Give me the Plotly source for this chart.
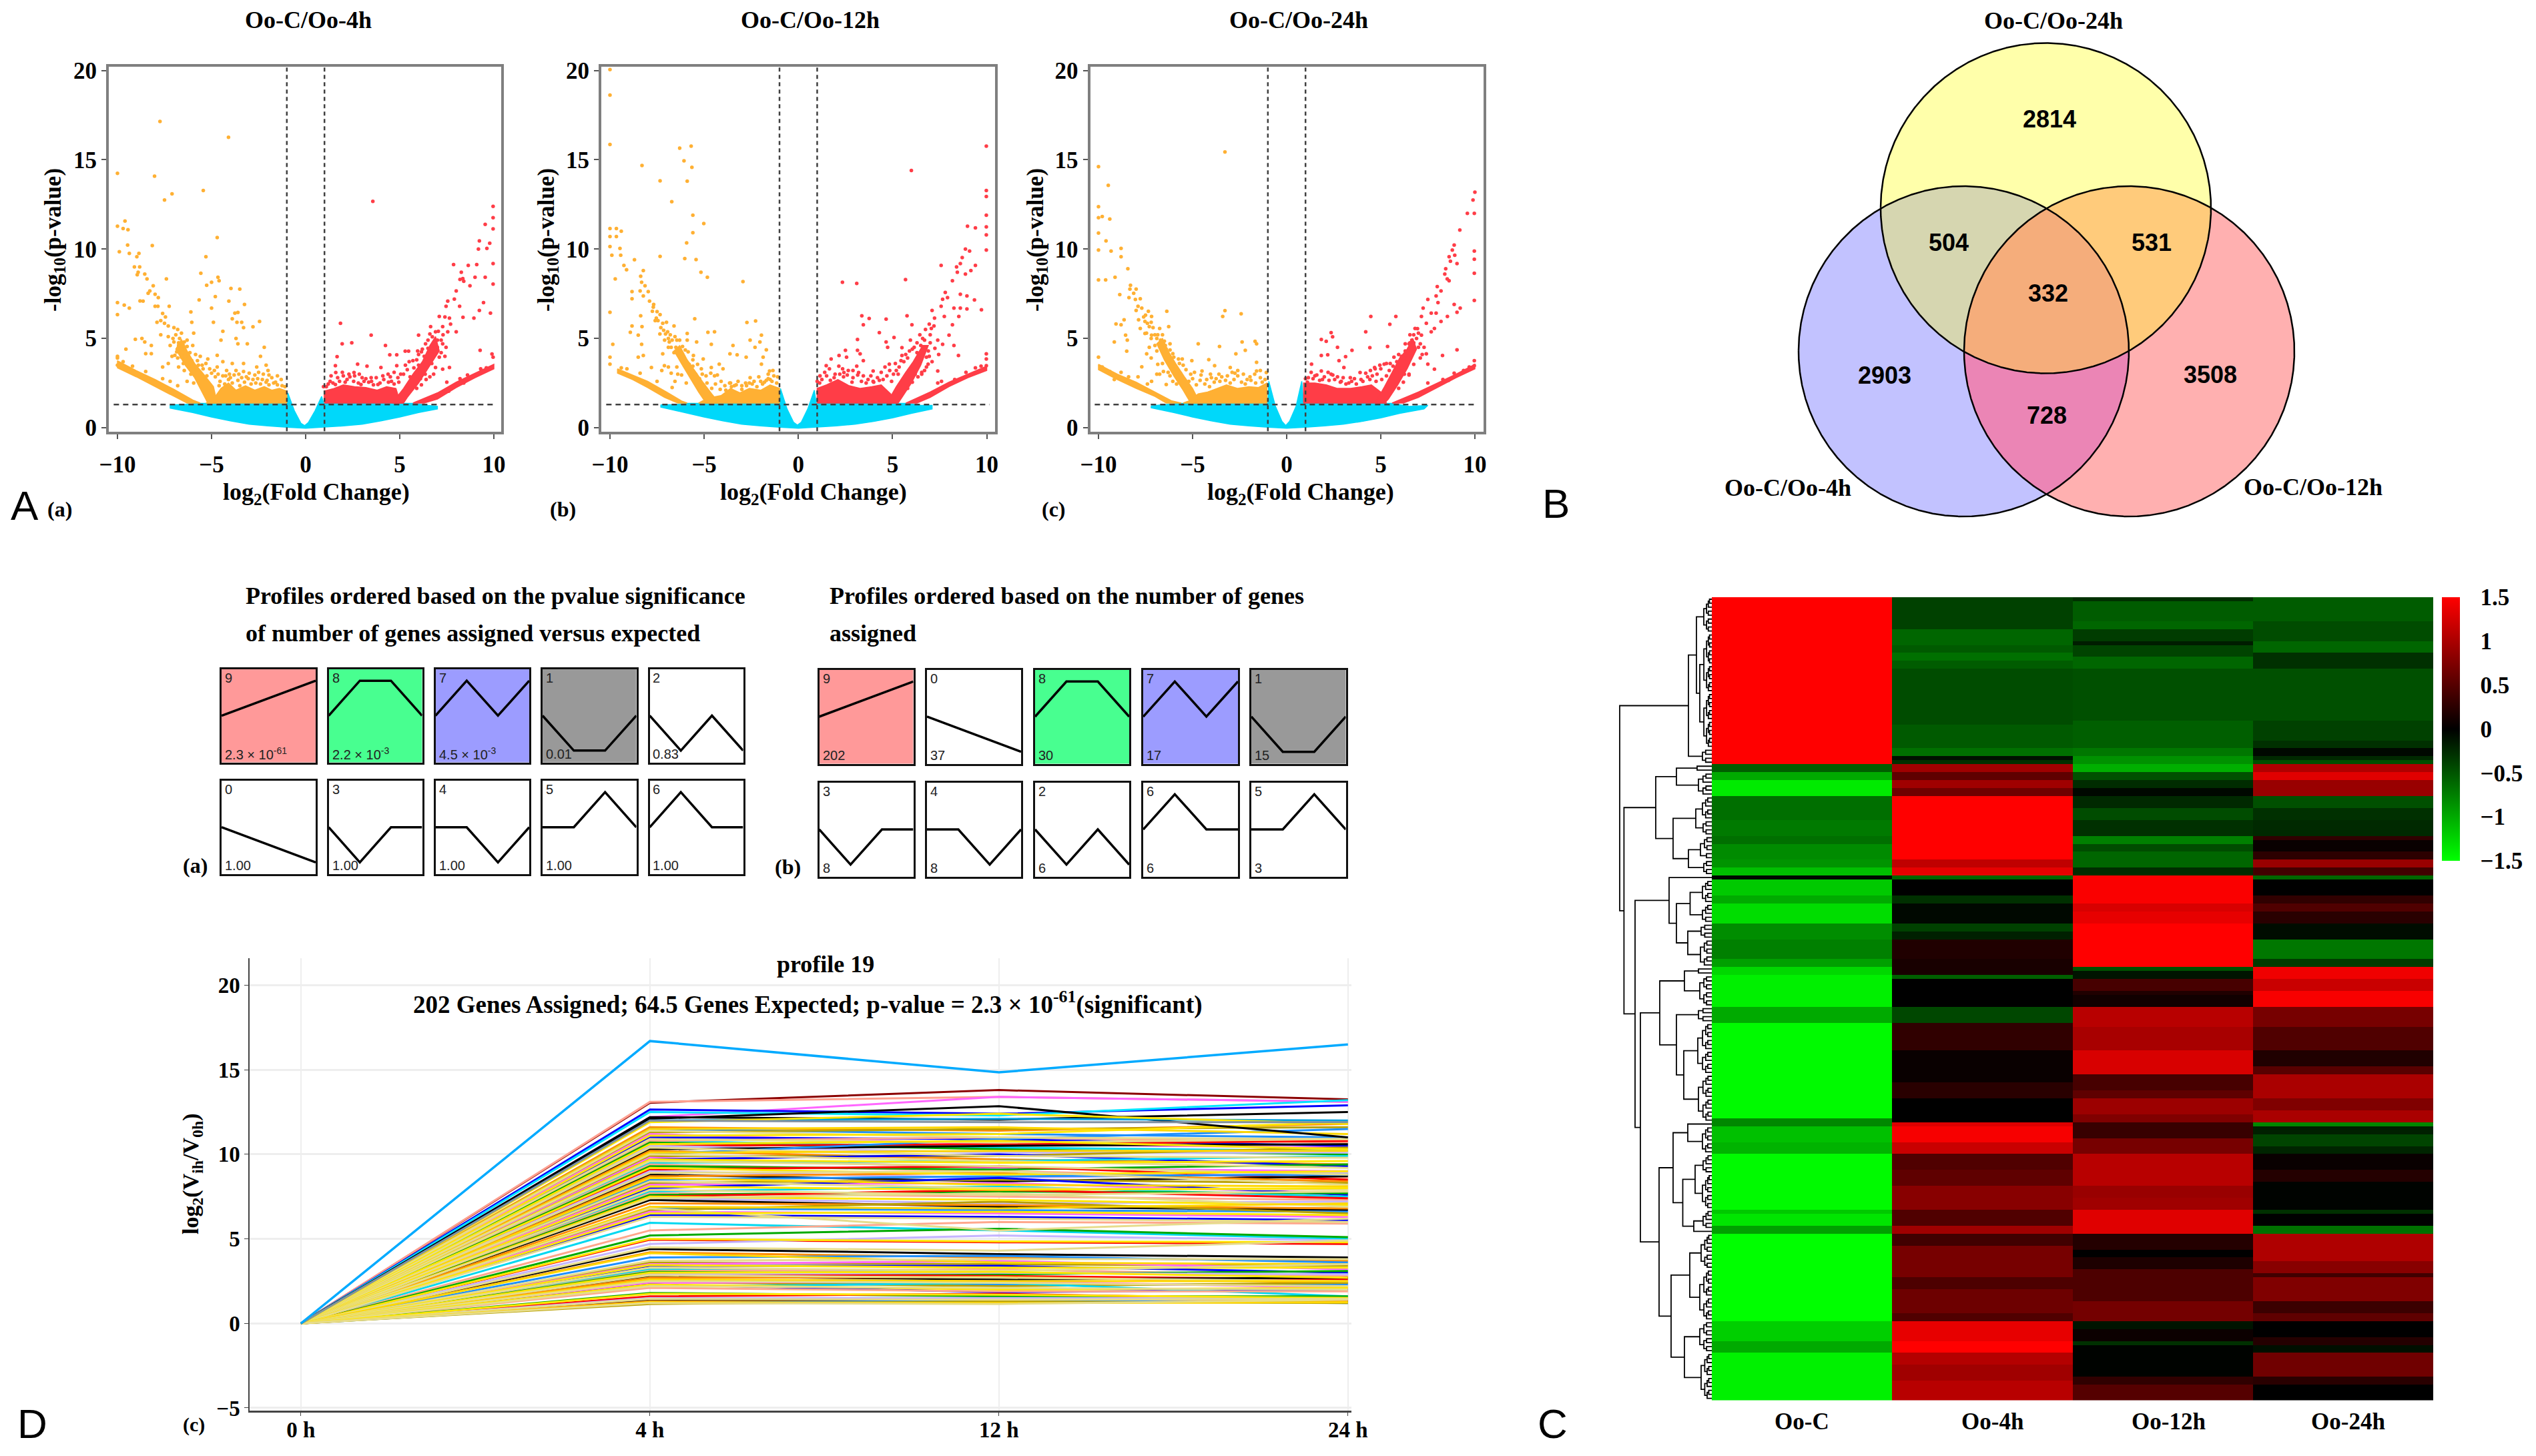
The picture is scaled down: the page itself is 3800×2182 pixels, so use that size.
import math
import plotly.graph_objects as go

W, H = 3800, 2182
SERIF = "Liberation Serif"
SANS = "Liberation Sans"

# ---------- Panel A: volcano data (x = log2 FC, y = -log10 p) ----------
v1_down_pts = [(-7.74,17.15),(-4.1,16.26),(-10,14.24),(-8.03,14.08),(-5.44,13.28),(-7.1,13.09),(-7.5,12.75),(-10,11.28),(-9.6,11.57),(-9.7,11.15),(-9.44,11.09),(-9.46,10.23),(-8.15,10.2),(-4.7,10.65),(-9.9,9.85),(-9.37,9.76),(-8.86,9.76),(-8.97,9.57),(-5.3,9.57),(-9.1,9.0),(-8.82,9.0),(-8.9,8.7),(-8.95,8.56),(-8.55,8.6),(-8.43,8.33),(-5.57,8.65),(-7.4,8.33),(-4.66,8.42),(-4.6,8.23),(-5,8.14),(-5.26,7.98),(-3.97,7.8),(-3.5,7.76),(-8.1,7.95),(-8.28,7.66),(-8.37,7.53),(-8,7.47),(-7.83,7.28),(-4.8,7.34),(-5.66,7.15),(-4.08,7.09),(-10,7),(-8.64,7.09),(-8.8,7.1),(-9.64,6.86),(-3.25,6.9),(-9.37,6.7),(-5,6.7),(-8,6.8),(-7.85,6.8),(-7.25,6.8),(-6.1,6.48),(-3.76,6.42),(-3.6,6.45),(-10,6.33),(-7.6,6.4),(-7.45,6.2),(-7.7,6.0),(-7.9,5.9),(-7.5,5.85),(-7.3,5.7),(-7.0,5.6),(-6.8,5.5),(-6.9,5.2),(-6.6,5.3),(-7.3,5.1),(-7.7,5.2),(-6.3,4.9),(-6.05,5.9),(-5.95,5.3),(-3.9,6.1),(-3.65,5.9),(-3.4,5.9),(-2.45,5.95),(-2.8,5.65),(-3.3,5.6),(-4.9,5.9),(-4.4,5.4),(-4.5,4.9),(-3.7,5.0),(-3.6,4.7),(-3.1,4.7),(-2.2,4.5),(-2.4,4.0),(-8.7,5.0),(-9.05,4.95),(-8.55,4.8),(-8.2,4.6),(-8.5,4.15),(-8.2,4.15),(-9.55,4.4),(-10,3.9),(-10,4.0),(-7.6,3.4),(-7.3,3.6),(-6.8,3.9),(-7.1,4.0),(-6.6,4.4),(-6.5,4.6),(-6.4,4.0),(-6.2,3.9),(-6.5,3.6),(-5.6,4.0),(-5.2,3.85),(-4.7,4.05),(-4.4,3.7),(-3.9,3.6),(-3.3,3.6),(-2.6,3.4),(-2.1,3.5),(-2.0,3.2),(-2.5,3.1),(-3.0,3.05),(-3.7,3.2),(-4.2,3.2),(-4.7,3.4),(-5.1,3.3),(-1.5,2.9),(-1.3,2.7),(-1.8,2.8),(-2.3,2.7),(-2.8,2.7),(-3.4,2.8),(-4.0,2.8),(-4.4,2.9),
(-6.7,5.0),(-6.45,4.8),(-6.75,4.6),(-7.0,4.8),(-6.3,4.55),(-6.15,4.2),(-6.0,4.6),(-5.85,4.1),(-5.75,3.75),(-6.6,3.95),(-6.85,4.25),(-6.2,3.45),(-5.8,3.25),(-5.5,3.5),(-5.25,2.9),(-5.0,3.05),(-4.8,2.85),(-4.55,2.6),(-4.3,2.45),(-4.1,2.7),(-3.9,2.5),(-3.6,2.65),(-3.25,2.55),(-3.05,2.75),(-2.9,2.45),(-2.65,2.5),(-2.4,2.45),(-2.1,2.55),(-1.95,2.4),(-1.7,2.5),(-1.5,2.4),(-1.25,2.35),(-3.5,2.35),(-4.6,2.35),(-7.6,2.75),(-7.2,2.6),(-6.8,2.35),(-8.5,3.15),(-9.2,3.45),(-9.7,3.7),(-10,3.5)]
v1_down_fuzz = [(-1.1,2.3),(-1.6,2.55),(-1.95,2.95),(-2.25,3.0),(-2.05,2.65),(-2.55,2.75),(-2.7,2.95),(-3.15,2.85),(-3.3,3.15),(-3.55,3.0),(-3.8,2.95),(-4.05,3.0),(-4.25,2.9),(-4.65,3.0),(-4.85,3.2),(-5.3,3.6),(-5.45,3.3),(-5.7,3.5),(-6.05,3.75),(-6.25,4.1),(-6.55,4.2),(-6.75,4.75),(-7.05,5.0),(-7.2,4.6),(-6.95,4.05),(-6.45,3.2),(-6.1,3.0),(-6.75,3.4),(-5.95,2.5),(-6.3,2.6)]
v1_up_pts = [(3.57,12.67),(9.96,12.39),(9.96,11.76),(9.54,11.38),(9.96,11.13),(9.23,10.46),(9.78,10.33),(9.18,10.0),(9.63,10.04),(9.96,9.19),(7.86,9.13),(9.09,9.13),(8.64,9.09),(8.27,8.7),(9,8.42),(9.54,8.42),(9.96,8.04),(8.2,8.3),(8.73,7.95),(8,7.66),(7.55,7.09),(7.9,7.2),(9.45,7),(7.46,6.8),(8.18,6.8),(9.23,6.57),(9.82,6.42),(8.36,6.18),(8.94,6.14),(1.85,5.85),(7.1,6.23),(7.64,6.14),(7.28,5.66),(7.55,5.37),(8,5.37),(3.48,5.18),(6.0,5.18),(1.94,4.7),(2.45,4.75),(4.24,4.6),(7.28,4.7),(9.27,4.33),(9.9,4.13),(9.96,3.95),(1.67,3.98),(1.58,3.47),(4.47,4.08),(4.84,4.08),(5.29,4.29),(5.47,4.29),(7.28,3.28),(7.64,3.37),(7.1,3.95),(6.9,3.37),(6.55,4.23),(6.37,4.7),(6.73,5.09),(6.9,5.37),(6.64,5.66),(7.46,4.5),(7,4.5),(2.57,3.09),(2.76,3.56),(3.26,3.45),(4.0,3.37),(4.84,3.47),(4.38,3),(3.48,2.8),(2.2,2.7),(1.6,3.09),(1.58,2.42),(0.95,2.3),(2.94,2.42),(3.84,2.42),(4.56,2.6),(1.3,2.6),(2.0,2.9),(3.0,2.8),(4.9,2.8),(6.2,4.4),(6.5,4.9),(6.0,4.1),(5.9,3.8),(7.3,5.2),(7.7,5.8),(7.4,6.2),(8.4,8.2),(8.35,8.35),
(1.2,2.45),(1.45,2.5),(1.8,2.6),(2.1,2.55),(2.35,2.85),(2.55,2.6),(2.8,2.5),(3.1,2.6),(3.35,2.55),(3.6,2.4),(3.95,2.5),(4.15,2.7),(4.4,2.55),(4.7,2.45),(4.95,2.55),(5.2,3.0),(5.4,3.25),(5.55,2.85),(5.75,3.35),(6.0,3.5),(6.25,3.15),(6.45,3.85),(6.7,4.1),(6.85,4.6),(6.35,3.0),(6.1,2.75),(6.7,3.6),(7.05,5.4),(7.2,4.9),(6.6,5.25),(7.5,2.55),(8.2,2.75),(8.6,2.95),(9.3,3.3),(9.6,3.35),(7.6,2.05),(8.4,2.5)]
v1_up_fuzz = [(1.1,2.3),(1.35,2.9),(1.7,2.8),(1.95,3.1),(2.3,3.0),(2.6,2.9),(2.85,3.0),(3.2,2.75),(3.5,2.6),(3.75,2.8),(4.1,2.9),(4.5,2.85),(4.7,3.1),(5.05,3.0),(5.3,3.5),(5.5,3.7),(5.7,3.75),(5.95,4.3),(6.15,4.25),(6.3,4.0),(6.5,4.45),(6.75,4.4),(7.0,4.9),(6.8,3.0),(7.2,4.2),(6.4,2.7),(6.15,2.4),(5.9,2.2),(6.6,2.85),(7.4,4.0)]
v2_down_pts = [(-10,20.05),(-10,18.62),(-10,15.86),(-6.3,15.65),(-5.69,15.76),(-6.07,14.94),(-5.65,14.58),(-8.3,14.68),(-7.34,13.82),(-5.9,13.8),(-6.72,12.65),(-5.6,11.9),(-5.02,11.43),(-5.6,10.92),(-10,11.15),(-9.66,11.15),(-9.4,11),(-9.66,10.7),(-10,10.7),(-10,10.14),(-9.47,10.04),(-5.93,10.35),(-7.34,9.59),(-9.9,9.66),(-9.43,9.66),(-6.03,9.47),(-5.43,9.41),(-8.7,9.4),(-9.26,9.09),(-9.12,8.84),(-5.17,8.7),(-8.23,8.8),(-8.37,8.48),(-4.83,8.42),(-9.72,8.33),(-2.94,8.18),(-8.32,8.14),(-8.14,7.95),(-7.97,7.62),(-8.83,7.62),(-8.4,7.66),(-8.23,7.38),(-7.9,7.09),(-8.83,7.22),(-7.68,6.9),(-7.75,6.52),(-10,6.46),(-7.34,6.33),(-7.54,6.14),(-8.37,6.27),(-5.5,6.1),(-2.73,5.89),(-2.27,5.98),(-8.83,5.7),(-8.3,5.66),(-7.2,5.85),(-6.6,5.7),(-6.94,5.37),(-4.8,5.34),(-4.45,5.37),(-5.9,5.28),(-1.96,5.18),(-8.92,5.34),(-8.5,5.18),(-6.7,4.9),(-6.5,4.5),(-5.9,4.9),(-5.4,4.8),(-2.56,4.9),(-2.04,4.8),(-9.85,4.67),(-8.32,4.67),(-4.62,4.67),(-3.47,4.6),(-1.7,4.36),(-7.2,4.14),(-3.63,4.14),(-3.25,4.08),(-2.3,4.5),(-10,3.95),(-8.23,4.04),(-8.5,3.95),(-5.57,4.04),(-2.77,3.95),(-1.87,3.95),(-10,3.56),(-7.8,3.37),(-7.11,3.47),(-5.05,3.85),(-4.2,3.56),(-4.62,3.37),(-1.96,3.56),(-1.53,3.18),(-2.56,2.8),(-3.6,2.5),(-4.45,2.9),(-5.1,3),(-1.5,2.7),(-2,2.6),(-7.6,6.0),(-7.3,5.6),(-7.0,5.9),(-6.8,5.2),(-7.1,4.9),(-6.3,4.9),(-6.6,4.2),(-6.9,4.5),(-4.0,3.3),(-3.2,2.6),(-2.8,2.5),(-1.3,2.9),(-1.6,3.0),
(-7.5,6.5),(-7.7,6.75),(-7.45,6.0),(-7.15,5.45),(-7.35,5.25),(-6.85,4.8),(-6.55,5.1),(-6.3,4.35),(-6.1,4.0),(-6.0,4.35),(-5.8,3.55),(-5.6,3.45),(-5.45,3.0),(-5.25,2.75),(-5.05,2.4),(-4.85,2.5),(-4.6,2.2),(-4.4,2.45),(-4.15,2.15),(-3.9,2.35),(-3.65,2.5),(-3.4,2.35),(-3.0,2.35),(-2.75,2.35),(-2.45,2.45),(-2.2,2.3),(-1.9,2.45),(-1.7,2.65),(-1.4,2.6),(-1.15,2.5),(-7.5,2.6),(-8.4,3.05),(-9.1,3.3),(-9.4,3.35),(-6.7,2.25),(-6.4,3.0),(-6.9,3.4)]
v2_down_fuzz = [(-1.1,2.85),(-1.35,3.2),(-1.6,2.75),(-1.8,2.55),(-2.1,2.85),(-2.35,2.6),(-2.6,2.5),(-3.0,2.15),(-3.3,2.4),(-3.55,2.3),(-3.85,2.1),(-4.1,2.6),(-4.3,2.95),(-4.65,3.05),(-4.9,2.9),(-5.15,3.3),(-5.35,3.55),(-5.6,3.8),(-5.85,4.25),(-6.15,4.55),(-6.45,4.9),(-6.75,4.5),(-6.9,5.0),(-7.05,5.25),(-6.45,3.4),(-6.2,2.95),(-5.95,2.5),(-6.55,2.6),(-7.25,3.2),(-6.75,3.05)]
v2_up_pts = [(6,14.4),(9.98,15.76),(9.98,13.28),(9.98,12.94),(9.98,11.9),(8.98,11.28),(9.4,11.19),(9.98,11.24),(9.98,10.8),(8.87,10),(9.09,9.89),(9.98,9.95),(7.58,9.09),(8.7,9.53),(8.6,9.19),(9.4,9.09),(8.4,9),(9.16,8.8),(8.87,8.6),(8.44,8.7),(5.69,8.29),(2.34,8.14),(3.1,8.08),(8.18,8.23),(7.8,7.57),(8.6,7.47),(8.95,7.38),(9.35,7.15),(7.66,7.19),(7.92,7.28),(7.58,6.8),(8.26,6.7),(8.6,6.7),(8.95,6.65),(9.72,6.6),(7.1,6.57),(7.75,6.23),(8.52,6.23),(3.37,6.27),(3.76,6.12),(4.66,6.08),(5.77,6.27),(7.23,6.14),(3.45,5.76),(6.03,5.76),(8.18,5.76),(7.06,5.56),(4.3,5.32),(5.08,5.05),(4.66,4.8),(3.14,4.94),(5.95,4.9),(7.4,4.9),(8,5.18),(7.66,4.67),(8.26,4.6),(3.14,4.33),(4.74,4.5),(5.5,4.48),(3.28,4.14),(8.5,4.04),(9.98,4.14),(9.98,3.85),(2.16,4.04),(1.74,3.85),(2.5,4.33),(2.56,3.95),(3.45,3.75),(1.48,3.47),(5.5,4.04),(6.8,3.95),(6.89,3.56),(7.4,3.18),(6.55,3),(9.98,3.47),(3.97,3.18),(4.83,3.56),(2.42,3.09),(3.2,3.09),(1.13,2.5),(1.9,2.8),(3.97,2.6),(6.3,4.2),(6.5,4.6),(6.7,4.9),(7.0,5.2),(7.2,5.7),(6.9,4.3),(7.1,3.7),(1.5,2.9),(2.9,2.8),(4.5,2.7),(5.2,3.2),
(1.25,2.7),(1.7,2.65),(2.2,3.0),(2.4,2.85),(2.65,3.2),(2.85,2.55),(3.1,3.45),(3.35,2.6),(3.6,2.5),(3.85,2.9),(4.2,2.8),(4.4,3.1),(4.7,2.9),(4.95,2.6),(5.15,3.6),(5.35,3.4),(5.6,3.7),(5.8,3.9),(6.0,3.3),(6.2,3.0),(6.35,3.85),(6.05,4.4),(6.6,5.0),(6.45,5.2),(6.75,5.5),(6.95,5.8),(7.0,4.75),(6.7,3.2),(7.6,2.6),(8.3,2.7),(8.9,3.1),(9.4,3.35),(9.7,3.45),(7.4,2.5),(1.0,2.6)]
v2_up_fuzz = [(1.15,2.9),(1.4,3.1),(1.65,3.3),(1.95,3.0),(2.15,3.45),(2.35,3.3),(2.6,2.95),(2.9,3.2),(3.15,2.95),(3.45,2.9),(3.7,2.7),(4.0,2.55),(4.3,2.65),(4.6,3.4),(4.85,3.2),(5.05,3.0),(5.3,3.0),(5.45,3.75),(5.7,4.1),(5.9,4.3),(6.15,4.5),(6.3,4.75),(6.55,3.1),(6.8,3.4),(6.35,2.85),(6.05,2.55),(5.8,2.2),(6.95,4.0),(7.25,4.45),(7.45,4.1)]
v3_down_pts = [(-3.28,15.44),(-10,14.62),(-9.48,13.57),(-10,12.37),(-10,11.76),(-9.8,11.82),(-9.4,11.68),(-10,10.9),(-9.6,10.46),(-10,9.95),(-9.33,9.89),(-8.8,10.04),(-8.8,9.57),(-8.44,8.9),(-9.12,8.42),(-10,8.27),(-9.62,8.27),(-8.3,7.98),(-8,7.76),(-8.33,7.76),(-8.13,7.53),(-8.87,7.45),(-8.38,7.28),(-7.78,7.22),(-8.04,7.18),(-7.7,6.7),(-8.0,6.57),(-7.35,6.52),(-6.37,6.52),(-3.28,6.56),(-2.42,6.38),(-3.4,6.23),(-7.18,6.23),(-7.87,6.04),(-7.53,5.95),(-8.64,6.04),(-8.8,5.76),(-9.07,5.81),(-7.3,5.66),(-6.27,5.66),(-6.75,5.56),(-7.78,5.56),(-7.53,5.28),(-8.56,5.18),(-7.18,5.18),(-8.47,4.9),(-9.16,4.8),(-4.7,4.7),(-1.68,4.84),(-2.37,4.8),(-1.6,4.7),(-3.57,4.55),(-2.2,4.33),(-8.5,4.29),(-7.44,4.14),(-2.7,4.14),(-10,3.95),(-7.7,3.41),(-4.14,3.81),(-5.04,3.75),(-5.55,3.85),(-3.83,3.47),(-1.6,3.66),(-3,3.37),(-4.5,3.18),(-1.6,3.18),(-1.08,3.09),(-6.75,3),(-7.18,2.6),(-6.4,2.42),(-9.16,2.7),(-6.9,5.0),(-7.0,4.6),(-7.3,4.5),(-6.6,5.2),(-6.9,4.3),(-7.5,6.3),(-7.2,5.9),(-3.6,3.0),(-2.6,2.9),(-2.9,3.1),(-4.0,2.8),(-1.4,2.8),(-2.1,2.7),(-6.2,2.9),(-6.0,3.3),
(-7.1,5.6),(-7.4,5.85),(-7.6,6.2),(-7.9,6.8),(-7.0,5.2),(-6.7,4.9),(-6.5,4.85),(-6.4,4.4),(-6.2,4.7),(-6.05,4.15),(-5.9,3.35),(-5.7,3.6),(-5.65,3.05),(-5.35,3.25),(-5.2,2.6),(-5.0,2.75),(-4.8,2.4),(-4.6,2.65),(-4.35,2.45),(-4.1,2.3),(-3.85,2.55),(-3.55,2.6),(-3.25,2.65),(-3.0,2.5),(-2.8,2.7),(-2.4,2.55),(-2.2,2.45),(-1.9,2.65),(-1.65,2.5),(-1.3,2.55),(-7.4,2.45),(-8.4,2.85),(-9.4,3.15),(-9.8,3.4),(-7.9,2.85),(-6.6,3.6),(-6.9,3.0),(-8.8,3.1)]
v3_down_fuzz = [(-1.15,2.7),(-1.4,3.2),(-1.7,3.0),(-1.95,2.85),(-2.3,3.0),(-2.6,3.2),(-2.75,3.05),(-3.15,2.9),(-3.45,2.85),(-3.75,2.75),(-4.05,3.0),(-4.25,2.7),(-4.55,2.95),(-4.9,3.1),(-5.1,3.0),(-5.5,3.5),(-5.75,3.85),(-6.0,3.95),(-6.2,4.35),(-6.45,4.6),(-6.65,4.5),(-6.85,5.2),(-7.2,5.0),(-7.45,5.3),(-6.55,3.15),(-6.3,3.1),(-6.05,2.6),(-5.85,2.45),(-6.85,3.55),(-7.2,3.9)]
v3_up_pts = [(10,13.19),(9.9,12.75),(9.6,12),(9.97,12),(9.2,11.07),(8.9,10.23),(8.8,9.95),(9.97,9.89),(8.63,9.57),(8.93,9.66),(9.97,9.43),(8.7,9.32),(9.05,9.19),(8.45,8.9),(9.97,8.65),(8.4,8.6),(8.0,7.9),(8.53,8.33),(8.63,8.23),(8.2,7.66),(7.5,7.18),(7.94,7.38),(9.97,7.13),(7.25,6.7),(9.22,6.7),(8.04,7),(8.9,6.9),(7.68,6.42),(9.05,6.46),(7.16,6.23),(7.94,6.42),(8.54,6.23),(5.8,6.23),(4.47,6.23),(5.48,5.79),(7.42,5.85),(8.2,5.95),(6.82,5.56),(4.2,5.37),(2.36,5.32),(2.44,5.09),(1.84,4.94),(2.1,4.84),(7.68,5.37),(7.16,5.18),(7.85,5.56),(5.36,4.55),(4.42,4.48),(2.7,4.5),(3.47,4.33),(6.65,4.9),(7.42,4.14),(7,4.5),(9.05,4.36),(8.28,4.04),(1.84,4.04),(2.18,4.08),(3.13,3.98),(2.78,3.75),(1.32,3.56),(7.5,3.56),(7.85,3.28),(9.97,3.75),(9.97,3.47),(5.18,3.56),(4.67,3.37),(3.04,3.37),(2.36,3),(1.84,3.18),(3.9,3.09),(3.38,2.8),(1.15,2.8),(4.42,2.7),(6.3,4.3),(6.5,4.7),(6.2,3.9),(6.9,5.0),(7.1,4.7),(1.5,2.9),(2.9,2.6),(4.8,3.0),(5.0,3.3),
(1.1,2.55),(1.4,2.75),(1.75,2.65),(2.0,2.85),(2.25,2.65),(2.55,2.7),(2.85,2.55),(3.15,2.45),(3.45,2.6),(3.7,2.45),(4.05,2.6),(4.3,2.85),(4.55,2.9),(4.75,2.6),(5.05,2.7),(5.3,2.9),(5.45,3.2),(5.65,3.45),(5.85,3.7),(6.1,3.35),(6.25,3.0),(6.45,4.0),(6.6,4.35),(6.75,4.75),(6.55,5.2),(6.95,5.55),(7.2,4.1),(6.5,2.95),(7.5,2.5),(8.3,2.7),(8.9,3.05),(9.4,3.2),(9.7,3.4),(7.9,2.3),(8.6,2.65)]
v3_up_fuzz = [(1.0,2.75),(1.3,3.1),(1.6,2.95),(1.9,2.7),(2.2,3.1),(2.45,2.95),(2.7,2.85),(3.0,2.8),(3.3,2.5),(3.6,2.75),(3.95,2.7),(4.2,3.05),(4.45,3.2),(4.7,3.3),(4.95,3.5),(5.3,3.6),(5.5,3.6),(5.7,3.95),(5.95,4.1),(6.1,4.0),(6.3,4.7),(6.55,4.75),(6.75,5.2),(7.0,5.3),(6.75,3.55),(6.5,3.0),(6.2,2.55),(5.95,2.2),(7.1,3.9),(7.3,4.5)]

# dense clouds, outlined from the picture
v1_down_clouds = [[(-1,1.38),(-1,2.05),(-1.4,2.2),(-1.8,2.1),(-2.2,2.3),(-2.7,2.1),(-3.2,2.35),(-3.7,2.1),(-4.1,2.5),(-4.5,2.2),(-4.9,1.6),(-5.3,1.38)],
                  [(-4.7,1.38),(-4.9,2.3),(-5.5,3.1),(-5.9,3.6),(-6.3,4.3),(-6.6,4.95),(-6.9,4.4),(-6.4,3.5),(-5.9,2.8),(-5.5,2.0),(-5.2,1.38)],
                  [(-10,3.75),(-9,3.2),(-8,2.7),(-7,2.15),(-6,1.55),(-5.6,1.38),(-6.3,1.38),(-7,1.75),(-8,2.3),(-9,2.85),(-10,3.35)]]
v1_up_clouds = [[(1,1.38),(0.98,2.05),(1.5,2.2),(2,2.4),(2.6,2.3),(3.2,2.25),(3.8,2.1),(4.3,2.3),(4.8,2.2),(5,1.5),(5.2,1.38)],
                [(4.6,1.38),(5.2,2.2),(5.7,3.0),(6.2,3.7),(6.6,4.6),(6.9,5.1),(7.1,4.3),(6.5,3.3),(6.0,2.5),(5.4,1.7),(5.2,1.38)],
                [(5.7,1.38),(7,1.95),(8,2.55),(9,3.05),(10,3.55),(10,3.3),(9,2.8),(8,2.25),(7,1.6),(6.3,1.38)]]
v2_down_clouds = [[(-1,1.38),(-1,2.2),(-1.5,2.4),(-2,2.1),(-2.6,2.2),(-3.1,1.95),(-3.6,2.2),(-4.1,1.8),(-4.6,1.7),(-5.1,1.5),(-5.3,1.38)],
                  [(-4.2,1.38),(-4.6,1.9),(-5.1,2.6),(-5.5,3.2),(-5.9,3.8),(-6.3,4.6),(-6.6,4.3),(-6.1,3.4),(-5.7,2.7),(-5.3,2.0),(-4.9,1.38)],
                  [(-9.6,3.3),(-8.8,2.95),(-8,2.6),(-7,2.0),(-6.2,1.5),(-5.9,1.38),(-6.4,1.38),(-7.1,1.7),(-8,2.25),(-8.8,2.7),(-9.6,3.05)]]
v2_up_clouds = [[(1,1.38),(1,2.2),(1.5,2.4),(2.1,2.7),(2.7,2.35),(3.3,2.2),(3.9,2.3),(4.4,2.4),(4.9,1.9),(5.2,1.38)],
                [(4.7,1.38),(5.2,2.3),(5.7,3.1),(6.1,3.7),(6.6,4.6),(6.9,4.6),(6.5,3.5),(6.0,2.5),(5.5,1.7),(5.3,1.38)],
                [(5.7,1.38),(7,2.0),(8,2.55),(9,3.0),(10,3.45),(10,3.2),(9,2.8),(8,2.3),(7,1.7),(6.3,1.38)]]
v3_down_clouds = [[(-1.05,1.38),(-1.05,2.5),(-1.5,2.25),(-2,2.3),(-2.6,2.2),(-3.2,2.4),(-3.7,2.2),(-4.2,2.0),(-4.7,1.9),(-5.2,1.5),(-5.5,1.38)],
                  [(-4.6,1.38),(-5,2.2),(-5.4,2.8),(-5.9,3.6),(-6.3,4.3),(-6.6,5.0),(-6.9,4.7),(-6.5,3.8),(-6.0,2.9),(-5.5,2.1),(-5.1,1.38)],
                  [(-10,3.55),(-9,3.0),(-8,2.55),(-7,2.0),(-6.1,1.5),(-5.6,1.38),(-6.4,1.38),(-7,1.75),(-8,2.2),(-9,2.7),(-10,3.25)]]
v3_up_clouds = [[(0.9,1.38),(0.9,2.5),(1.5,2.5),(2.1,2.4),(2.7,2.2),(3.4,2.2),(4,2.3),(4.5,2.4),(5,2.0),(5.3,1.38)],
                [(4.7,1.38),(5.2,2.3),(5.6,3.1),(6,3.9),(6.4,4.4),(6.7,5),(6.9,4.4),(6.4,3.3),(5.9,2.4),(5.4,1.6),(5.2,1.38)],
                [(5.6,1.38),(7,2.0),(8,2.5),(9,3.0),(10,3.55),(10,3.3),(9,2.8),(8,2.25),(7,1.7),(6.2,1.38)]]
v1_ns_cloud = [(-7.2,1.28),(-6.5,1.3),(-5.8,1.36),(-1,1.36),(-0.95,1.95),(-0.6,0.95),(-0.25,0.25),(-0.05,0.12),(0.15,0.3),(0.5,0.95),(0.85,1.75),(0.95,1.36),(5.8,1.36),(6.5,1.25),(7,1.2),(7,1.05),(6,0.85),(5,0.6),(4,0.38),(3,0.2),(2,0.1),(1,0.03),(0,-0.03),(-1,0.03),(-2,0.1),(-3,0.2),(-4,0.38),(-5,0.6),(-6,0.85),(-7.2,1.1)]
v2_ns_cloud = [(-7.3,1.28),(-6.5,1.3),(-5.9,1.36),(-1,1.36),(-0.95,2.2),(-0.6,1.05),(-0.25,0.3),(-0.05,0.15),(0.15,0.3),(0.5,1.05),(0.85,2.1),(0.95,1.36),(5.8,1.36),(6.5,1.25),(7.1,1.25),(7.1,1.05),(6,0.8),(5,0.55),(4,0.35),(3,0.2),(2,0.1),(1,0.03),(0,-0.03),(-1,0.03),(-2,0.1),(-3,0.2),(-4,0.38),(-5,0.6),(-6,0.85),(-7.3,1.15)]
v3_ns_cloud = [(-7.2,1.22),(-6.4,1.3),(-5.8,1.36),(-1,1.36),(-0.95,2.6),(-0.6,1.2),(-0.25,0.35),(-0.05,0.12),(0.15,0.35),(0.5,1.2),(0.8,2.6),(0.9,1.36),(5.6,1.36),(6.5,1.2),(7.5,1.25),(7.3,1.05),(6,0.8),(5,0.55),(4,0.35),(3,0.2),(2,0.1),(1,0.03),(0,-0.03),(-1,0.03),(-2,0.1),(-3,0.2),(-4,0.38),(-5,0.6),(-6,0.85),(-7.2,1.12)]
volcano_titles = ["Oo-C/Oo-4h", "Oo-C/Oo-12h", "Oo-C/Oo-24h"]
volcano_tags = ["(a)", "(b)", "(c)"]
volcano_ticks_x = [-10, -5, 0, 5, 10]
volcano_ticks_y = [0, 5, 10, 15, 20]
fc_cut = [-1, 1]
p_cut = 1.3

# ---------- Panel B: Venn ----------
venn_counts = {"2814": (3071,179), "504": (2920,363), "531": (3224,363), "332": (3069,440),
               "2903": (2824,562), "3508": (3312,561), "728": (3067,622)}
venn_labels = [("Oo-C/Oo-24h",3077,31), ("Oo-C/Oo-4h",2679,731), ("Oo-C/Oo-12h",3466,730)]
venn_cx = [3065.5, 2942.5, 3190.5]
venn_cy = [312, 526.5, 526.5]
venn_r = 247.5

# ---------- Panel D (top): STEM profiles ----------
profile_levels = {9:[0,1/3,2/3,1], 0:[0,-1/3,-2/3,-1], 8:[0,1,1,0], 7:[0,1,0,1], 1:[0,-1,-1,0],
                  2:[0,-1,0,-1], 3:[0,-1,0,0], 4:[0,0,-1,0], 5:[0,0,1,0], 6:[0,1,0,0]}
profile_fill = {9:"#FF9999", 8:"#48FF90", 7:"#9C9CFF", 1:"#999999"}
profiles_a = [9,8,7,1,2,0,3,4,5,6]
notes_a = ["2.3 × 10<sup>-61</sup>","2.2 × 10<sup>-3</sup>","4.5 × 10<sup>-3</sup>","0.01","0.83","1.00","1.00","1.00","1.00","1.00"]
profiles_b = [9,0,8,7,1,3,4,2,6,5]
notes_b = ["202","37","30","17","15","8","8","6","6","3"]

# ---------- Panel D (bottom): gene trajectories ----------
time_labels = ["0 h", "4 h", "12 h", "24 h"]
gene_4h = [11.6,11.5,11.5,11.4,11.3,11.2,11.1,11.0,10.9,10.8,10.8,10.7,10.6,10.5,10.5,10.4,10.3,10.2,10.1,10.0,10.0,9.9,9.8,9.7,9.7,9.6,9.5,9.4,9.3,9.2,9.1,9.0,8.9,8.8,8.7,8.6,8.5,8.4,8.3,8.2,8.1,8.0,7.9,7.8,7.7,7.6,7.5,7.5,7.4,7.4,7.3,7.1,6.9,6.8,6.8,6.7,6.6,6.5,6.4,6.3,5.95,5.5,5.2,5.0,4.95,4.7,4.5,4.4,4.2,4.15,3.9,3.7,3.6,3.5,3.45,3.4,3.3,3.2,3.1,3.05,3.0,2.95,2.9,2.85,2.8,2.7,2.6,2.55,2.5,2.45,2.4,2.3,2.3,2.2,2.15,2.1,1.8,1.75,1.6,1.5,1.45,1.4,1.3,1.25,1.2,1.2,1.15]
gene_12h = [11.4,11.6,11.2,11.0,11.5,10.6,11.2,10.9,10.7,10.4,11.0,10.3,10.8,10.6,10.1,9.9,10.5,9.7,10.2,10.9,9.6,9.9,9.2,9.5,10.0,9.3,9.6,9.0,9.1,8.8,9.3,8.6,9.0,8.4,8.9,8.2,8.7,8.0,8.5,8.3,7.9,8.6,7.6,8.1,7.5,7.8,7.3,7.9,7.1,7.7,6.9,7.0,6.8,6.7,5.5,7.2,6.5,6.6,6.3,6.2,5.5,6.0,5.6,4.85,4.8,5.2,4.3,4.1,3.9,3.6,4.0,3.8,3.5,3.7,3.3,3.4,3.1,3.0,3.2,2.9,3.05,2.8,3.0,2.7,2.6,2.75,2.5,2.3,2.4,2.2,2.5,2.0,1.85,2.1,2.4,1.9,1.6,1.7,1.75,1.5,1.4,1.3,1.25,1.2,1.35,1.15,1.3]
gene_24h = [11.8,11.2,11.0,10.9,11.6,10.4,11.9,10.5,10.9,10.2,10.7,10.0,10.3,10.8,10.1,9.8,10.6,9.4,10.2,11.5,9.2,10.4,9.0,9.6,9.3,8.8,9.9,8.6,9.4,9.0,8.5,8.9,8.2,8.7,8.4,8.1,8.8,7.9,8.3,7.7,8.0,7.6,7.8,7.5,7.3,7.7,7.0,7.4,7.2,6.9,6.7,6.8,7.1,6.6,6.2,6.5,6.3,6.4,6.1,6.0,5.0,5.9,5.1,4.8,4.7,4.9,4.9,3.9,3.7,3.5,3.6,3.8,3.4,3.2,3.3,3.0,3.5,2.9,2.8,3.1,2.7,2.6,2.9,2.5,2.7,2.4,2.5,2.3,2.2,2.4,2.1,2.1,2.0,2.0,1.6,1.9,1.6,1.5,1.4,1.5,1.45,1.3,1.35,1.25,1.2,1.4,1.2]
gene_palette = ["#FF66FF","#FFE600","#0000FF","#E6DC8C","#00D8F0","#FFA78C","#00AA00","#FFE600","#FF0000","#C4B4FF","#E6DC8C","#000000","#FF8C00","#FFD700","#1E90FF","#E6DC8C","#B8A000"]
gene_last_colors = ["#FFE600","#E6DC8C","#FFD700"]
top_genes = [(13.05,13.8,13.25),(13.1,13.4,13.1),(12.2,13.4,13.1),(12.65,12.4,12.9),(12.5,12.3,13.2),(12.2,12.05,12.5),(12.1,12.85,11.0),(12.0,12.1,12.0),(11.9,12.4,11.8),(12.0,11.9,11.9)]
top_colors = ["#8B0000","#FFA090","#FF66FF","#0000FF","#00E5FF","#000000","#000000","#00A0E0","#FFE600","#8090A0"]
outlier_gene = (16.7,14.85,16.5)
line_ticks_y = [-5,0,5,10,15,20]

# ---------- Panel C: heatmap, one (row end, value) run per colour band ----------
heat_labels = ["Oo-C","Oo-4h","Oo-12h","Oo-24h"]
heat_label_x = [2700,2985,3249,3518]
oo_c_ends = [42,44,46,50,56,60,62,66,68,70,71,75,77,82,86,91,93,95,103,107,131,133,137,140,154,155,158,160,182,187,190,202]
oo_c_vals = [1.5,-.55,-1.0,-1.38,-.65,-.72,-.65,-.82,-.87,-1.13,-.06,-1.18,-1.0,-1.3,-.83,-.75,-.94,-1.27,-1.41,-1.0,-1.47,-.8,-1.13,-1.05,-1.47,-1.18,-1.35,-.94,-1.5,-1.22,-1.0,-1.42]
oo_4_ends = [8,12,14,16,18,32,38,40,41,42,44,46,48,50,66,68,70,71,75,77,82,84,86,91,95,96,103,107,114,122,126,132,133,137,140,144,148,154,158,160,163,171,174,180,182,187,190,193,197,202]
oo_4_vals = [-.38,-.6,-.53,-.66,-.54,-.45,-.53,-.66,-.1,-.28,.94,.56,.94,.66,1.5,1.13,1.36,-.6,0,-.28,-.05,-.38,-.19,.19,.14,-.56,0,-.42,.28,.05,.24,0,1.3,1.45,1.18,.47,.56,.8,.47,.94,.38,.7,.45,.64,.47,1.36,1.5,1.06,.94,1.08]
oo_12_ends = [1,6,8,11,12,15,18,31,38,40,42,44,46,48,50,53,56,60,62,64,68,70,77,79,82,93,94,96,99,100,103,108,114,120,124,126,130,132,136,140,148,151,154,160,164,166,169,177,182,184,187,188,196,198,202]
oo_12_vals = [-.28,-.54,-.6,-.35,-.17,-.4,-.6,-.47,-.56,-.7,-.85,-1.03,-.47,-.26,-.05,-.24,-.45,-.28,-.75,-.45,-.6,-.26,1.47,1.27,1.36,1.5,-.47,-.12,.42,.19,.1,1.08,.99,1.27,.42,.56,.92,.75,.33,.7,1.08,.9,.94,1.32,.21,0,.17,.45,.68,-.12,.07,-.28,-.02,.28,.5]
oo_24_ends = [6,11,14,18,31,36,38,40,41,42,44,46,50,53,56,60,61,64,66,68,70,71,75,77,79,82,86,91,93,96,99,103,108,114,118,120,126,129,132,133,135,138,140,144,147,154,155,158,160,167,170,171,177,180,182,186,188,190,196,198,202]
oo_24_vals = [-.54,-.45,-.6,-.28,-.47,-.38,-.28,-.05,-.24,-.47,1.03,1.32,.9,-.47,-.28,-.24,.28,.05,.26,.9,.38,-.6,0,.28,.47,.24,-.07,-.7,-.35,1.41,1.18,1.46,.7,.47,.19,.52,1.0,.75,1.0,-.8,-.19,-.4,-.21,.05,.21,-.02,-.28,0,-.66,1.03,.8,.38,.75,.35,.56,0,.21,-.09,.66,.24,0]
heat_runs = [(oo_c_ends,oo_c_vals),(oo_4_ends,oo_4_vals),(oo_12_ends,oo_12_vals),(oo_24_ends,oo_24_vals)]
n_rows = 202
bar_ticks = [-1.5,-1,-0.5,0,0.5,1,1.5]
bar_labels = ["−1.5","−1","−0.5","0","0.5","1","1.5"]

# ---------- figure helpers ----------
def xd(a,b): return [a/W, b/W]
def yd(top,bot): return [1-bot/H, 1-top/H]

fig = go.Figure()
layout = {}
annots = []
shapes = []
axis_n = [0]

def new_axes(xcfg, ycfg):
    axis_n[0] += 1
    n = axis_n[0]
    sfx = "" if n == 1 else str(n)
    xref, yref = "x"+sfx, "y"+sfx
    layout["xaxis"+sfx] = dict(anchor=yref, **xcfg)
    layout["yaxis"+sfx] = dict(anchor=xref, **ycfg)
    return xref, yref

def text(x, y, s, size=32, family=SERIF, bold=True, anchor="center", color="#000", angle=0):
    annots.append(dict(x=x/W, y=1-y/H, xref="paper", yref="paper", text=s, showarrow=False,
                       xanchor=anchor, yanchor="middle", textangle=angle,
                       font=dict(family=family, size=size, color=color, weight=700 if bold else 400)))

serif_tick = dict(family=SERIF, size=35, color="#000", weight=700)

# ---------- Panel A ----------
volcano_px = [(163,751,176,740),(901,1491,914,1478.5),(1633.5,2222.5,1646,2210)]
volcano_title_x = [462,1214,1946]
volcano_xlabel_x = [474,1219,1949]
volcano_ylabel_x = [82,821,1554]
volcano_data = [(v1_ns_cloud,v1_down_clouds,v1_up_clouds,v1_down_pts+v1_down_fuzz,v1_up_pts+v1_up_fuzz),
                (v2_ns_cloud,v2_down_clouds,v2_up_clouds,v2_down_pts+v2_down_fuzz,v2_up_pts+v2_up_fuzz),
                (v3_ns_cloud,v3_down_clouds,v3_up_clouds,v3_down_pts+v3_down_fuzz,v3_up_pts+v3_up_fuzz)]
ORANGE, RED, BLUE = "#FFB033", "#FF3D47", "#00D8FA"
for k in range(3):
    l, r, xm, xp = volcano_px[k]
    s = (xp-xm)/20
    xr = [-10-(xm-l)/s, 10+(r-xp)/s]
    frame = dict(showline=True, mirror=True, linecolor="#7F7F7F", linewidth=4, showgrid=False, zeroline=False,
                 ticks="outside", ticklen=7, tickwidth=2, tickcolor="#555", tickfont=serif_tick)
    xa, ya = new_axes(dict(domain=xd(l,r), range=xr, tickvals=volcano_ticks_x, ticklabelstandoff=8, **frame),
                      dict(domain=yd(100,647), range=[-0.224,20.21], tickvals=volcano_ticks_y, **frame))
    ns, down_c, up_c, down_p, up_p = volcano_data[k]
    def poly(pts, col):
        fig.add_trace(go.Scatter(x=[p[0] for p in pts]+[pts[0][0]], y=[p[1] for p in pts]+[pts[0][1]], mode="lines",
                                 fill="toself", fillcolor=col, line=dict(color=col, width=1.5), xaxis=xa, yaxis=ya,
                                 showlegend=False, hoverinfo="skip"))
    poly(ns, BLUE)
    for c in down_c: poly(c, ORANGE)
    for c in up_c: poly(c, RED)
    for pts, col in ((down_p, ORANGE), (up_p, RED)):
        fig.add_trace(go.Scatter(x=[p[0] for p in pts], y=[p[1] for p in pts], mode="markers",
                                 marker=dict(color=col, size=5.5), xaxis=xa, yaxis=ya, showlegend=False))
    for c in fc_cut:
        fig.add_trace(go.Scatter(x=[c,c], y=[-0.2,20.2], mode="lines", line=dict(color="#404040", width=2.5, dash="6px,5px"),
                                 xaxis=xa, yaxis=ya, showlegend=False))
    fig.add_trace(go.Scatter(x=[-10.2,10.15], y=[p_cut,p_cut], mode="lines", line=dict(color="#404040", width=2.5, dash="8px,6px"),
                             xaxis=xa, yaxis=ya, showlegend=False))
    text(volcano_title_x[k], 30, volcano_titles[k], size=36)
    text(volcano_xlabel_x[k], 739, "log<sub>2</sub>(Fold Change)", size=36)
    text(volcano_ylabel_x[k], 360, "-log<sub>10</sub>(p-value)", size=35, angle=-90)
text(89, 763, "(a)", size=32)
text(843, 763, "(b)", size=32)
text(1579, 763, "(c)", size=32)
text(37, 757, "A", size=62, family=SANS, bold=False)
text(2331, 754, "B", size=62, family=SANS, bold=False)
text(2326, 2133, "C", size=62, family=SANS, bold=False)
text(48, 2133, "D", size=62, family=SANS, bold=False)

# ---------- Panel B ----------
vx, vy = new_axes(dict(domain=xd(2660,3470), range=[2660,3470], visible=False),
                  dict(domain=yd(40,800), range=[800,40], visible=False))
def region(members):
    pts = []
    for i in members:
        for t in range(1440):
            a = t*math.pi/720
            px, py = venn_cx[i]+venn_r*math.cos(a), venn_cy[i]+venn_r*math.sin(a)
            if all(j == i or math.hypot(px-venn_cx[j], py-venn_cy[j]) <= venn_r for j in members):
                pts.append((px, py))
    mx, my = sum(p[0] for p in pts)/len(pts), sum(p[1] for p in pts)/len(pts)
    return sorted(pts, key=lambda p: math.atan2(p[1]-my, p[0]-mx))
venn_regions = [((0,),"#FFFFAA"),((1,),"#C2C2FF"),((2,),"#FFB0B0"),((0,1),"#D6D6B0"),((0,2),"#FFCB7B"),((1,2),"#EB85B5"),((0,1,2),"#F5AD7B")]
for members, col in venn_regions:
    pts = region(members)
    fig.add_trace(go.Scatter(x=[p[0] for p in pts]+[pts[0][0]], y=[p[1] for p in pts]+[pts[0][1]], mode="lines", fill="toself",
                             fillcolor=col, line=dict(width=0, color=col), xaxis=vx, yaxis=vy, showlegend=False, hoverinfo="skip"))
for i in range(3):
    pts = region((i,))
    fig.add_trace(go.Scatter(x=[p[0] for p in pts]+[pts[0][0]], y=[p[1] for p in pts]+[pts[0][1]], mode="lines",
                             line=dict(width=2.5, color="#000"), xaxis=vx, yaxis=vy, showlegend=False, hoverinfo="skip"))
for s_, (x_, y_) in venn_counts.items():
    text(x_, y_, s_, size=36, family=SANS)
for s_, x_, y_ in venn_labels:
    text(x_, y_, s_, size=36)

# ---------- STEM profile grids ----------
text(366, 893, "Profiles ordered based on the pvalue significance", size=36, anchor="left")
text(366, 949, "of number of genes assigned versus expected", size=36, anchor="left")
text(1241, 893, "Profiles ordered based on the number of genes", size=36, anchor="left")
text(1241, 949, "assigned", size=36, anchor="left")
text(292, 1297, "(a)", size=32)
text(1180, 1299, "(b)", size=32)
grid_a = ([(332,473),(492.5,632.5),(652.5,793),(813,953.5),(973.5,1113.5)], [(1002.5,1142.5),(1169.5,1310)])
grid_b = ([(1227.5,1368.5),(1389,1530),(1551,1692),(1713,1855),(1875,2016.5)], [(1003.5,1144.5),(1172.5,1313.5)])
for grid, ids, notes in ((grid_a,profiles_a,notes_a),(grid_b,profiles_b,notes_b)):
    cols, rows = grid
    for idx, (pid, note) in enumerate(zip(ids, notes)):
        (l, r), (t, b) = cols[idx % 5], rows[idx // 5]
        border = dict(showline=True, mirror=True, linecolor="#111", linewidth=2.5, showgrid=False, zeroline=False,
                      showticklabels=False, ticks="")
        xa, ya = new_axes(dict(domain=xd(l,r), range=[0,3], **border), dict(domain=yd(t,b), range=[-1.337,1.337], **border))
        if pid in profile_fill:
            shapes.append(dict(type="rect", xref=xa+" domain", yref=ya+" domain", x0=0, x1=1, y0=0, y1=1,
                               fillcolor=profile_fill[pid], line_width=0, layer="below"))
        fig.add_trace(go.Scatter(x=[0,1,2,3], y=profile_levels[pid], mode="lines", line=dict(color="#000", width=3.5),
                                 xaxis=xa, yaxis=ya, showlegend=False))
        text(l+3, t+13, str(pid), size=20, family=SANS, bold=False, anchor="left", color="#222")
        text(l+3, b-13, note, size=20, family=SANS, bold=False, anchor="left", color="#222")

# ---------- Trajectories ----------
lx, ly = new_axes(dict(domain=xd(374,2025), range=[-0.147,3.01], tickvals=[0,1,2,3], ticktext=time_labels, showline=True, linecolor="#444",
                       linewidth=3, ticks="outside", ticklen=5, tickcolor="#444", showgrid=True, gridcolor="#EEEEEE", gridwidth=1.5,
                       zeroline=False, ticklabelstandoff=-8, tickfont=dict(family=SERIF, size=33, color="#000", weight=700)),
                  dict(domain=yd(1436,2114), range=[-5.16,21.6], tickvals=line_ticks_y, showline=True, linecolor="#444", linewidth=1.5,
                       ticks="outside", ticklen=6, tickcolor="#444", showgrid=True, gridcolor="#EEEEEE", gridwidth=3,
                       zeroline=False, tickfont=dict(family=SERIF, size=33, color="#000", weight=700)))
gene_lines = [((a,b,c), gene_palette[(i+12) % len(gene_palette)]) for i, (a,b,c) in enumerate(zip(gene_4h, gene_12h, gene_24h))]
gene_lines = [g for g in gene_lines if g[1] not in gene_last_colors] + [g for g in gene_lines if g[1] in gene_last_colors]
for (a,b,c), col in gene_lines:
    fig.add_trace(go.Scatter(x=[0,1,2,3], y=[0,a,b,c], mode="lines", line=dict(color=col, width=3),
                             xaxis=lx, yaxis=ly, showlegend=False))
for (a,b,c), col in zip(top_genes, top_colors):
    fig.add_trace(go.Scatter(x=[0,1,2,3], y=[0,a,b,c], mode="lines", line=dict(color=col, width=3),
                             xaxis=lx, yaxis=ly, showlegend=False))
fig.add_trace(go.Scatter(x=[0,1,2,3], y=[0]+list(outlier_gene), mode="lines", line=dict(color="#00AAFF", width=3.5),
                         xaxis=lx, yaxis=ly, showlegend=False))
text(1237, 1445, "profile 19", size=36)
text(1210, 1503, "202 Genes Assigned; 64.5 Genes Expected; p-value = 2.3 × 10<sup>-61</sup>(significant)", size=37)
text(288, 1759, "log<sub>2</sub>(V<sub>ih</sub>/V<sub>0h</sub>)", size=34, angle=-90)
text(290, 2135, "(c)", size=30)

# ---------- Heatmap + dendrogram ----------
def expand(ends, vals):
    out, start = [], 0
    for e, v in zip(ends, vals):
        out += [v]*(e-start)
        start = e
    return out
cols_z = [expand(e, v) for e, v in heat_runs]
z = [[cols_z[c][r] for c in range(4)] for r in range(n_rows)]
hx, hy = new_axes(dict(domain=xd(2565,3646), range=[-.5,3.5], visible=False),
                  dict(domain=yd(895,2098.6), range=[n_rows-.5,-.5], visible=False))
fig.add_trace(go.Heatmap(z=z, x=[0,1,2,3], y=list(range(n_rows)), xaxis=hx, yaxis=hy, zmin=-1.5, zmax=1.5,
                         colorscale=[[0,"#00FF00"],[.5,"#000000"],[1,"#FF0000"]],
                         colorbar=dict(x=3659/W, xanchor="left", y=1-895/H, yanchor="top", len=395/H, lenmode="fraction",
                                       thickness=27, thicknessmode="pixels", xpad=0, ypad=0, outlinewidth=0, tickmode="array",
                                       tickvals=bar_ticks, ticktext=bar_labels, ticks="outside", ticklen=24, tickcolor="rgba(0,0,0,0)",
                                       tickfont=dict(family=SERIF, size=35, color="#000", weight=700))))
for name, x_ in zip(heat_labels, heat_label_x):
    text(x_, 2130, name, size=35)

def N(d, l, r): return ("N", d, l, r)
def R(a, b, d=16): return ("R", a, b, d)
dendro_tree = N(138,
    N(35, N(23, R(0,9,12), R(9,38,18)), R(38,42,14)),
    N(131.6,
        N(84, N(53, R(42,44,22), R(44,50,20)),
              N(58, N(24, R(50,56,14), R(56,60,13)), N(35, N(17, R(60,64,11), R(64,66,8)), R(66,70,12)))),
        N(115,
            N(64, R(70,71), N(53, N(32.5, R(71,77,14), R(77,82,14)), N(36, R(82,86,16), R(86,93,17)))),
            N(107,
                N(78, N(41, R(93,95,20), R(95,103,18)), N(53, R(103,107,20), N(42, R(107,120,21), R(120,132,20)))),
                N(79,
                    N(58, N(36, R(132,133), R(133,140,14)), N(43.5, N(25, R(140,145,13), R(145,154,14)), N(27, R(154,159,13), R(159,160)))),
                    N(61, N(33, R(160,169,16), R(169,182,18)), N(41, R(182,190,18), R(190,202,16))))))))
seg_x, seg_y = [], []
def draw(node):
    if node[0] == "R":
        _, a, b, d = node
        if b-a == 1:
            return a, 0
        m = (a+b+1)//2
        l_, r_ = ("R",a,m,d*.66), ("R",m,b,d*.66)
    else:
        _, d, l_, r_ = node
    y1, d1 = draw(l_)
    y2, d2 = draw(r_)
    seg_x.extend([d1,d,d,d2,None])
    seg_y.extend([y1,y1,y2,y2,None])
    return (y1+y2)/2, d
draw(dendro_tree)
dx, dy = new_axes(dict(domain=xd(2425,2565), range=[140,0], visible=False),
                  dict(domain=yd(895,2098.6), range=[n_rows-.5,-.5], visible=False))
fig.add_trace(go.Scatter(x=seg_x, y=seg_y, mode="lines", line=dict(color="#000", width=1.8), xaxis=dx, yaxis=dy, showlegend=False, hoverinfo="skip"))

fig.update_layout(width=W, height=H, margin=dict(l=0,r=0,t=0,b=0,pad=0,autoexpand=False), paper_bgcolor="#FFFFFF", plot_bgcolor="rgba(0,0,0,0)",
                  showlegend=False, annotations=annots, shapes=shapes, **layout)
fig.write_html("out.html", config={"displayModeBar": False},
               post_script="document.body.style.margin='0';document.documentElement.style.overflow='hidden';")
